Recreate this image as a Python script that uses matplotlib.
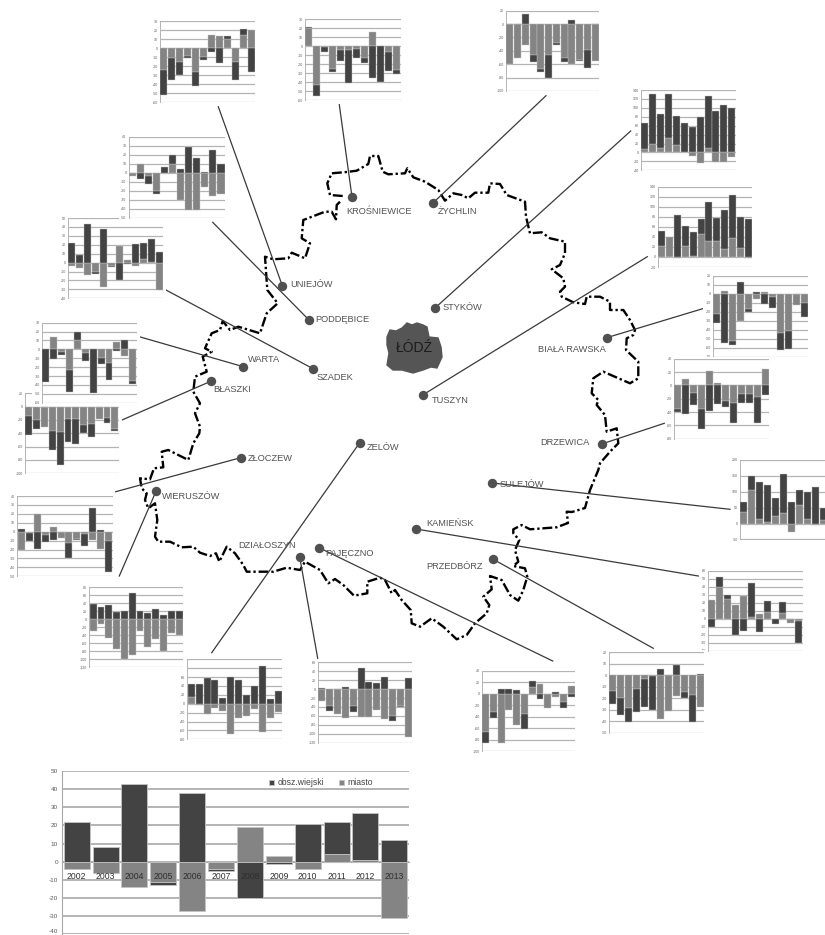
import numpy as np
import matplotlib
matplotlib.use("Agg")
import matplotlib.pyplot as plt
from matplotlib.patches import Rectangle

plt.rcParams['font.family'] = ['Liberation Sans', 'DejaVu Sans']
plt.rcParams['axes.unicode_minus'] = False

W, H = 825, 935
DARK = '#434343'
LIGHT = '#848484'
GRID = '#b4b4b4'
TEXT = '#525252'

years = ['2002', '2003', '2004', '2005', '2006', '2007', '2008', '2009', '2010', '2011', '2012', '2013']

# ---- series values: miasto (m) and obszar wiejski (w) for each unit
uniejow_m = [-24, -11, -15, -9, -27, -10, 15, 14, 10, -15, 15, 20]
uniejow_w = [-28, -24, -15, -2, -15, -3, -4, -16, 4, -21, 6, -26]
krosniewice_m = [20, -43, -1, -25, -4, -4, -3, -13, 16, 0, -6, -26]
krosniewice_w = [1, -13, -5, -4, -13, -37, -10, -6, -36, -40, -22, -5]
zychlin_m = [-60, -50, -31, -46, -67, -46, -29, -50, -59, -54, -38, -55]
zychlin_w = [0, 0, 15, -11, -5, -34, -3, -7, 6, -1, -27, 0]
stykow_m = [8, 19, 11, 33, 17, 0, -8, -24, 10, -22, -21, -10]
stykow_w = [57, 111, 76, 98, 64, 65, 57, 80, 117, 92, 106, 100]
tuszyn_m = [22, 40, -3, 22, 1, 46, 31, 31, 15, 38, 18, -3]
tuszyn_w = [30, 0, 83, 39, 49, 30, 78, 47, 79, 85, 62, 75]
biala_m = [-23, 3, -53, -30, -17, -6, 2, -4, -44, -41, -13, -10]
biala_w = [-10, -55, -4, 13, -3, 2, -11, -12, -19, -21, 0, -16]
drzewica_m = [-36, 10, -11, -35, 22, 3, -23, -27, -13, -13, -18, 24]
drzewica_w = [-4, -43, -18, -30, -39, -28, -9, -29, -13, -14, -39, -15]
sulejow_m = [35, 105, 13, 5, 25, 33, -25, 58, 13, -3, 10, 0]
sulejow_w = [33, 45, 117, 115, 57, 124, 68, 49, 87, 116, 40, 0]
kamiensk_m = [23, 40, 25, 17, 29, 2, 6, 9, 0, 7, -5, -3]
kamiensk_w = [-10, 12, 5, -20, -15, 43, -17, 13, -6, 14, 0, -27]
przedborz_m = [-14, -20, -29, -12, -3, -1, -38, -31, -18, -15, -17, -28]
przedborz_w = [-11, -15, -12, -20, -25, -29, 5, 0, 9, -5, -24, 1]
pajeczno_m = [-66, -32, -85, -28, -55, -36, 12, 17, -25, -5, -15, 13]
pajeczno_w = [-19, -11, 9, 9, 6, -25, 10, -10, 0, 3, -10, -6]
dzialoszyn_m = [-27, -38, -55, -65, -38, -63, -62, -46, -66, -60, -38, -107]
dzialoszyn_w = [3, -12, 0, 5, -14, 48, 17, 14, 28, -12, -2, 24]
zelow_m = [15, -2, -22, -10, -17, -68, -33, -28, -12, -63, -33, -19]
zelow_w = [29, 44, 57, 54, 13, 60, 54, 20, 40, 85, 11, 28]
wieruszow_m = [-30, -11, -47, -73, -100, -88, -30, -68, -48, -78, -35, -38]
wieruszow_w = [38, 30, 35, 18, 20, 65, 20, 15, 27, 10, 22, 20]
zloczew_m = [-20, -1, 20, -4, 5, -7, -13, -8, -3, -9, -19, -10]
zloczew_w = [3, -9, -19, -8, -9, 0, -17, -1, -13, 26, 2, -35]
blaszki_m = [-14, -20, -30, -36, -38, -18, -18, -27, -26, -19, -17, -33]
blaszki_w = [-28, -14, 0, -29, -49, -35, -38, -12, -20, 0, -7, -4]
warta_m = [0, 14, -3, -23, 11, -4, 0, -10, -15, 8, -8, -36]
warta_w = [-37, -11, -3, -25, 9, -9, -49, -6, -20, -2, 11, -3]
szadek_m = [-4, -6, -14, -11, -27, -4, 19, 3, -4, 4, 1, -31]
szadek_w = [22, 8, 43, -2, 38, -1, -20, -1, 21, 18, 26, 12]
poddebice_m = [-3, 10, -4, -20, 0, 10, -30, -41, -41, -16, -26, -24]
poddebice_w = [0, -7, -8, -4, 7, 10, 4, 29, 17, 1, 26, 10]

# ---- map data (reference pixels)
boundary_x = [342.7, 330, 327.3, 331.7, 346.7, 356.7, 368.3, 370, 378.3, 382.7, 388.3, 405, 407.3, 413.3, 425, 438.3, 445,
              453.3, 461.7, 468.3, 475, 488.3, 490, 500, 506.7, 525, 526, 530, 541.7, 550, 565, 565, 560, 551.7, 563.3, 565,
              560, 561.7, 573.3, 585, 586.7, 600, 610, 610, 623.3, 630, 635, 633.3, 626.7, 626, 638.3, 638.3, 630, 603.3,
              593.3, 591.7, 598.3, 596.7, 605, 606.7, 616.7, 618.3, 610, 600, 598.3, 590, 585, 572, 566.7, 568,
              556.7, 530, 521.7, 513.3, 513.3, 519.3, 515, 518.3, 513.3, 525, 527.3, 523.3, 518.3, 510, 501.7, 490, 491.7,
              483.3, 489.3, 486.7, 475, 466.7, 456.7, 443.3, 431.7, 420, 411.7, 410.7, 401.7, 395, 391.7, 385, 380, 367.3,
              367.3, 354, 343.3, 335, 328.3, 320, 305, 300, 286.7, 273.3, 246.7, 243.3, 235, 226.7, 219.3, 216, 210, 200,
              193.3, 181.7, 170, 158.3, 155, 157.3, 155, 148.3, 145, 146.7, 141.7, 140, 150, 154, 163.3, 161.7, 168.3, 188.3,
              193.3, 199.3, 200, 195, 200, 193.3, 195, 206.7, 202.7, 211.7, 205, 211.7, 220, 222.7, 230, 238.3, 260, 266.7,
              277.7, 267.3, 265, 273.3, 288.3, 291.7, 305, 310, 301.7, 303.3, 325, 331.7, 336, 336.7, 341.7]
boundary_y = [196, 195, 183.3, 173.3, 172, 170.7, 164, 156, 156, 171.7, 174.3, 173.3, 168.3, 177.3, 181.7, 190, 200.7,
              193.3, 195, 198.3, 192.7, 192.7, 183.3, 184, 195, 201.7, 216.7, 233.3, 232.3, 238.3, 241.7, 253.3, 265, 269.3,
              278.3, 286.7, 291.7, 296.7, 302.3, 304, 296.7, 296.7, 301.7, 310, 310, 320, 330, 335, 338.3, 350, 361.7, 378.3,
              383.3, 371.7, 378.3, 393.3, 400, 405, 415, 431.7, 428.3, 443.3, 451.7, 463.3, 470, 490, 508, 512, 511.7, 523,
              527.3, 529.3, 525, 529.3, 533.3, 540, 550, 561.7, 566, 568.3, 576.7, 590, 600.7, 595, 580, 576, 589.3,
              596.7, 605, 613.3, 623.3, 635, 639.3, 626.7, 618.3, 626.7, 623.3, 610, 600, 590, 593.3, 580, 577.7, 581.7,
              593.3, 595.7, 585, 579, 583.3, 570, 561.7, 570, 567.7, 571.7, 571.7, 565, 553.3, 546.7, 561.7, 553.3, 556, 552.7,
              546.7, 547.3, 541.7, 541.7, 536.7, 520, 503.3, 508.3, 500, 493.3, 488.3, 478.3, 479.3, 468.3, 467.3, 451.7, 450, 460,
              443.3, 433.3, 426.7, 413.3, 403.3, 391.7, 376.7, 371.7, 356.7, 351.7, 348.3, 333.3, 330, 321, 330, 326.7, 333.3, 313.3,
              303.3, 290, 256.7, 259.3, 258.3, 252.7, 258.3, 243.3, 238.3, 220, 211.7, 211.7, 219.3, 205, 200]

lodz_x = [387, 390, 396, 402, 407, 412, 417, 423, 427, 429, 438, 441, 442, 437, 431, 423, 413, 402, 393, 387, 389, 387]
lodz_y = [337, 330, 331, 328, 323, 325, 323, 325, 327, 337, 338, 347, 357, 368, 367, 370, 373, 370, 370, 365, 353, 345]

cities = ['KROŚNIEWICE', 'UNIEJÓW', 'ŻYCHLIN', 'STYKÓW', 'TUSZYN', 'BIAŁA RAWSKA', 'DRZEWICA', 'SULEJÓW', 'KAMIEŃSK',
          'PRZEDBÓRZ', 'PAJĘCZNO', 'DZIAŁOSZYN', 'ZELÓW', 'WIERUSZÓW', 'ZŁOCZEW', 'BŁASZKI', 'WARTA', 'SZADEK', 'PODDĘBICE']
city_x = [352, 282.3, 433.3, 434.7, 422.7, 606.7, 601.7, 492, 416, 492.7, 319, 299.7, 359.7, 156, 240.7, 210.7, 243.3, 313, 308.7]
city_y = [197, 285.7, 202.7, 308.3, 395, 337.7, 444, 483, 529, 559, 547.7, 557, 442.7, 491.3, 457.7, 381.3, 366.7, 368.7, 319.7]
lead_x = [339.3, 218.3, 546, 630.7, 647.3, 702.7, 664.3, 730, 698.3, 653.3, 552.7, 317.7, 211.7, 119.3, 115.7, 122, 139.3, 166, 212.7]
lead_y = [104.7, 106.7, 95.7, 131, 256.7, 308.7, 423.3, 509.3, 576, 648.3, 661, 658.3, 652.7, 576, 491.7, 420, 336.7, 290, 222.3]
label_x = [346, 290.7, 437.3, 442.7, 432.3, 538, 540.7, 500, 426, 426, 325, 238.7, 367, 162, 247.7, 213.3, 247.7, 317, 315.7]
label_y = [211, 284.7, 212, 307.7, 400.3, 349, 442.7, 484.7, 523, 566.7, 554, 545, 447.7, 496.7, 458.3, 389, 359, 377.7, 320]

# (m, w, left, right, top, bottom, ymax, ymin, step) - drawn in this order
insets = [
    (uniejow_m, uniejow_w, 160, 255, 21.3, 102, 30, -60, 10),
    (krosniewice_m, krosniewice_w, 305, 400.7, 19.3, 100, 30, -60, 10),
    (zychlin_m, zychlin_w, 506, 599, 10.7, 91, 20, -100, 20),
    (stykow_m, stykow_w, 641, 735.7, 90, 170.3, 140, -40, 20),
    (tuszyn_m, tuszyn_w, 658, 752, 186.7, 267, 140, -20, 20),
    (biala_m, biala_w, 712.7, 808, 275.7, 356.7, 20, -70, 10),
    (drzewica_m, drzewica_w, 674, 769, 358.7, 438.7, 40, -80, 20),
    (sulejow_m, sulejow_w, 740, 835, 460, 539.5, 200, -50, 50),
    (kamiensk_m, kamiensk_w, 708, 802.7, 570.7, 650.7, 60, -40, 10),
    (przedborz_m, przedborz_w, 609, 704, 652, 732.7, 20, -50, 10),
    (pajeczno_m, pajeczno_w, 481.7, 575, 670.7, 751.3, 40, -100, 20),
    (dzialoszyn_m, dzialoszyn_w, 318, 412, 662.3, 742.7, 60, -120, 20),
    (zelow_m, zelow_w, 187.3, 282, 659.3, 739.3, 100, -80, 20),
    (wieruszow_m, wieruszow_w, 89.3, 183, 587.3, 667.3, 80, -120, 20),
    (zloczew_m, zloczew_w, 17.3, 112.7, 496, 576.3, 40, -50, 10),
    (blaszki_m, blaszki_w, 25, 118.7, 393.3, 473.3, 20, -100, 20),
    (warta_m, warta_w, 41.7, 136.7, 322.7, 402.7, 30, -60, 10),
    (szadek_m, szadek_w, 67.7, 163.3, 218, 298.3, 50, -40, 10),
    (poddebice_m, poddebice_w, 128.5, 225, 137, 217.7, 40, -50, 10),
]


def px_axes(fig, left, right, top, bottom):
    return fig.add_axes([left / W, 1 - bottom / H, (right - left) / W, (bottom - top) / H])


def stacked(ax, m, w, width, edge, elw):
    m = np.array(m, float)
    w = np.array(w, float)
    x = np.arange(len(m))
    base = np.where(m * w > 0, m, 0)
    b1 = ax.bar(x, m, width, color=LIGHT, edgecolor=edge, linewidth=elw, zorder=3)
    b2 = ax.bar(x, w, width, bottom=base, color=DARK, edgecolor=edge, linewidth=elw, zorder=3)
    return b1, b2


fig = plt.figure(figsize=(W / 100, H / 100), dpi=100, facecolor='white')

# map layer
mp = fig.add_axes([0, 0, 1, 1], zorder=0)
mp.set_xlim(0, W)
mp.set_ylim(H, 0)
mp.axis('off')
mp.plot(boundary_x, boundary_y, color='black', lw=1.7, ls=(0, (4.2, 1.2, 1.0, 1.2)), zorder=2)
mp.fill(lodz_x, lodz_y, color='#555555', zorder=2)
for cx, cy, lx, ly in zip(city_x, city_y, lead_x, lead_y):
    mp.plot([cx, lx], [cy, ly], color='#3a3a3a', lw=0.9, zorder=3)
mp.scatter(city_x, city_y, s=46, color='#505050', linewidths=0, zorder=4)
for name, x, y in zip(cities, label_x, label_y):
    mp.text(x, y, name, fontsize=6.7, color=TEXT, ha='left', va='center', zorder=5)
mp.text(414.2, 348.3, 'ŁÓDŹ', fontsize=10, color='#1c1c1c', ha='center', va='center', zorder=5)

# small charts
for k, (m, w, left, right, top, bottom, ymax, ymin, step) in enumerate(insets):
    ax = px_axes(fig, left, right, top, bottom)
    ax.set_zorder(1 + k)
    ax.add_patch(Rectangle((-0.10, -0.04), 1.13, 1.06, transform=ax.transAxes, facecolor='white',
                           edgecolor='none', clip_on=False, zorder=-5))
    stacked(ax, m, w, 0.88, '#c4c4c4', 0.3)
    ax.set_xlim(-0.5, 11.5)
    ax.set_ylim(ymin, ymax)
    ax.set_yticks(np.arange(ymin, ymax + step / 2, step))
    ax.set_xticks([])
    ax.tick_params(axis='y', length=0, pad=1.5, labelsize=2.6, labelcolor='#606060')
    ax.set_axisbelow(True)
    ax.grid(axis='y', color=GRID, lw=0.9)
    for s in ('top', 'right', 'bottom'):
        ax.spines[s].set_visible(False)
    ax.spines['left'].set_color(GRID)
    ax.spines['left'].set_linewidth(0.7)

# main chart
main = px_axes(fig, 62.3, 408.7, 771, 934.3)
main.set_zorder(40)
b_m, b_w = stacked(main, szadek_m, szadek_w, 0.9, '#c4c4c4', 0.6)
main.set_xlim(-0.5, 11.5)
main.set_ylim(-40, 50)
main.set_yticks(np.arange(-40, 51, 10))
main.set_xticks(np.arange(12))
main.set_xticklabels(years)
main.set_axisbelow(True)
main.xaxis.set_zorder(6)
main.grid(axis='y', color='#a8a8a8', lw=1.2)
main.tick_params(axis='y', length=0, pad=3, labelsize=4.6, labelcolor='#5a5a5a')
main.tick_params(axis='x', length=0, pad=7.5, labelsize=6.2, labelcolor='#2e2e2e')
main.get_yticklabels()[0].set_va('bottom')
main.spines['top'].set_visible(False)
main.spines['right'].set_visible(False)
main.spines['bottom'].set_position(('data', 0))
main.spines['bottom'].set_color('#a8a8a8')
main.spines['left'].set_color('#a8a8a8')
main.legend([b_w, b_m], ['obsz.wiejski', 'miasto'], loc='center', bbox_to_anchor=(0.747, 0.927), ncols=2,
            frameon=False, fontsize=6.2, labelcolor='#444444', handlelength=0.6, handleheight=0.6,
            handletextpad=0.4, columnspacing=1.7, borderpad=0)

fig.savefig('out.png', dpi=100, facecolor='white')
